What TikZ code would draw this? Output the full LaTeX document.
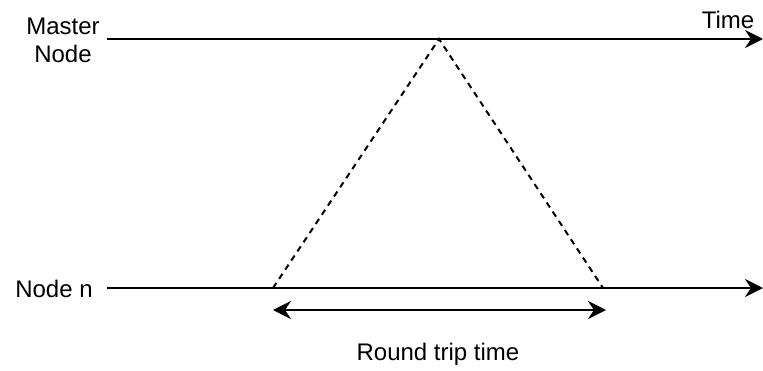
\documentclass[tikz,border=0pt]{standalone}
\usepackage{fontspec}
\setmainfont{Liberation Sans}
\usetikzlibrary{arrows.meta}
\begin{document}
\begin{tikzpicture}[x=1pt,y=-1pt,
  lbl/.style={inner sep=0pt, anchor=base, font=\fontsize{24}{28.3}\selectfont},
  timeline/.style={line width=2.6pt, -{Stealth[length=18pt,width=18pt,inset=6pt]}},
  signal/.style={line width=2pt, dash pattern=on 6pt off 5pt},
  span/.style={line width=2.4pt, {Stealth[length=18pt,width=18pt,inset=6pt]}-{Stealth[length=18pt,width=18pt,inset=6pt]}}]
\useasboundingbox (0,0) rectangle (763,370);
% labels
\node[lbl, align=center] (master) at (63,62.7) {Master\\Node};
\node[lbl] (time) at (728,28) {Time};
\node[lbl] (noden) at (54,297) {Node n};
\node[lbl] (rtt) at (438,360) {Round trip time};
% coordinates
\coordinate (ms) at (107,39);
\coordinate (me) at (763,39);
\coordinate (ns) at (107,288);
\coordinate (ne) at (763,288);
\coordinate (apex) at (439,39);
\coordinate (bl) at (273,288);
\coordinate (br) at (603,288);
\coordinate (al) at (273,310);
\coordinate (ar) at (606,310);
% lines
\draw[timeline] (ms) -- (me);
\draw[timeline] (ns) -- (ne);
\draw[signal] (bl) -- (apex) -- (br);
\draw[span] (al) -- (ar);
\end{tikzpicture}
\end{document}
